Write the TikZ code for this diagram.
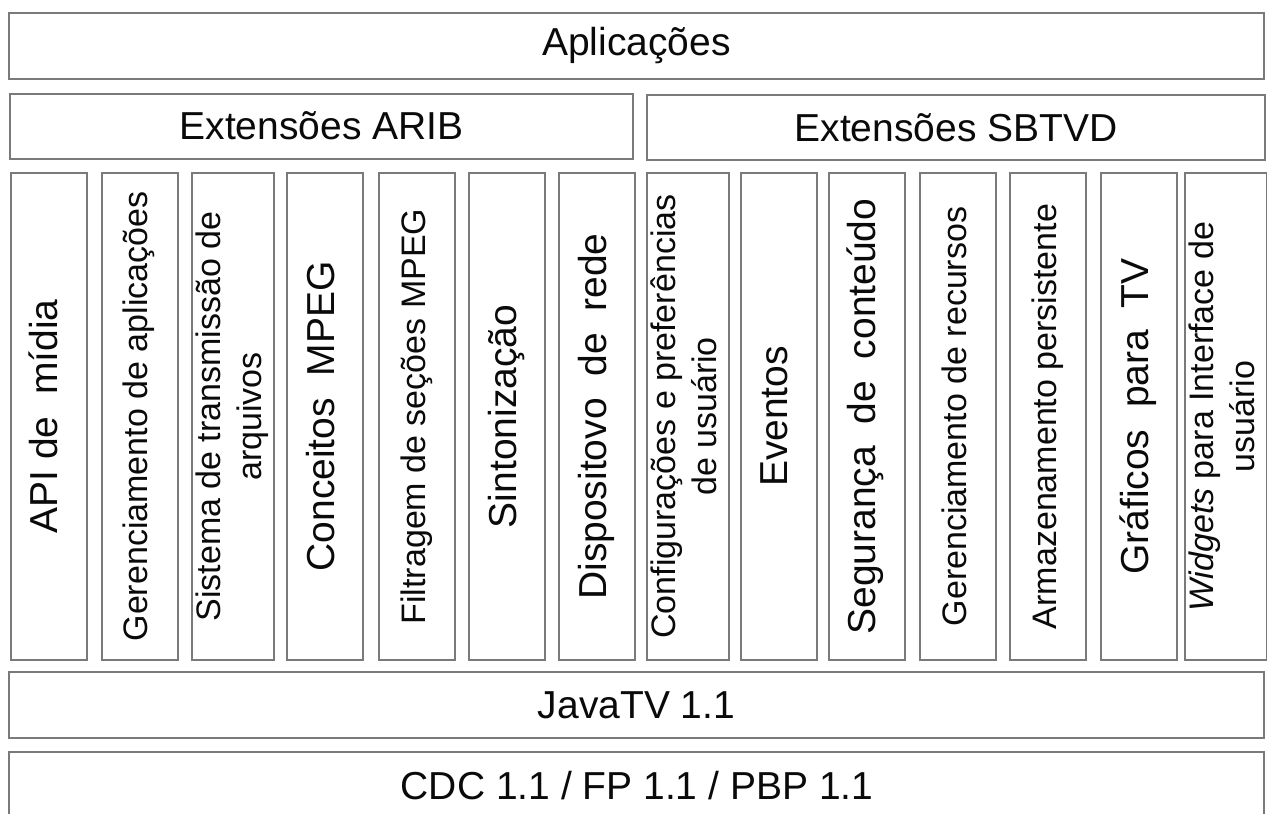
\documentclass[tikz,border=0pt]{standalone}
\usepackage{fontspec}
\setmainfont{Liberation Sans}
\definecolor{boxline}{HTML}{7A7A7A}
\definecolor{txt}{HTML}{0A0A0A}
\newcommand\biglbl{\fontsize{39}{46}\selectfont}
\newcommand\smalllbl{\fontsize{34}{41}\selectfont}
\newcommand\vtext[1]{\rotatebox{90}{\begin{tabular}{@{}c@{}}#1\end{tabular}}}
\begin{document}
\begin{tikzpicture}[x=1pt,y=-1pt,
  layer/.style={draw=boxline, line width=2pt, fill=white, text=txt, inner sep=0pt, font=\biglbl},
  colbox/.style={draw=boxline, line width=2pt, fill=white, text=txt, inner sep=0pt,
    minimum width=76pt, minimum height=487pt}]
\useasboundingbox (0,0) rectangle (1267,814);
\fill[white] (0,0) rectangle (1267,814);

% top layers
\node[layer, minimum width=1255pt, minimum height=66pt] (apps) at (636.5,46) {Aplicações};
\node[layer, minimum width=623pt, minimum height=65pt] (arib) at (321.5,126) {Extensões ARIB};
\node[layer, minimum width=618pt, minimum height=65pt] (sbtvd) at (956,127.5) {Extensões SBTVD};

% columns
\node[colbox, font=\biglbl] (c1) at (48.5,416.5) {\vtext{API de\ \ mídia}};
\node[colbox, font=\smalllbl] (c2) at (139.5,416.5) {\vtext{Gerenciamento de aplicações}};
\node[colbox, font=\smalllbl] (c3) at (233,416.5) {\vtext{Sistema de transmissão de\\arquivos}};
\node[colbox, font=\biglbl] (c4) at (325,416.5) {\vtext{Conceitos\ \ MPEG}};
\node[colbox, font=\smalllbl] (c5) at (417,416.5) {\vtext{Filtragem de seções MPEG}};
\node[colbox, font=\biglbl] (c6) at (507,416.5) {\vtext{Sintonização}};
\node[colbox, font=\biglbl] (c7) at (597,416.5) {\vtext{Dispositovo\ \ de\ \ rede}};
\node[colbox, font=\smalllbl] (c8) at (688,416.5) {\vtext{Configurações e preferências\\de usuário}};
\node[colbox, font=\biglbl] (c9) at (778.5,416.5) {\vtext{Eventos}};
\node[colbox, font=\biglbl] (c10) at (866.5,416.5) {\vtext{Segurança\ \ de\ \ conteúdo}};
\node[colbox, font=\smalllbl] (c11) at (958,416.5) {\vtext{Gerenciamento de recursos}};
\node[colbox, font=\smalllbl] (c12) at (1048,416.5) {\vtext{Armazenamento persistente}};
\node[colbox, font=\biglbl] (c13) at (1139,416.5) {\vtext{Gráficos\ \ para\ \ TV}};
\node[colbox, font=\smalllbl] (c14) at (1226,416.5) {\vtext{\textit{Widgets} para Interface de\\usuário}};

% bottom layers
\node[layer, minimum width=1255pt, minimum height=66pt] (javatv) at (636.5,705) {JavaTV 1.1};
\node[draw=boxline, line width=2pt, fill=white, inner sep=0pt, minimum width=1255pt, minimum height=90pt] (cdc) at (636.5,797) {};
\node[text=txt, font=\biglbl, inner sep=0pt] (cdctxt) at (637,786) {CDC 1.1 / FP 1.1 / PBP 1.1};
\end{tikzpicture}
\end{document}
